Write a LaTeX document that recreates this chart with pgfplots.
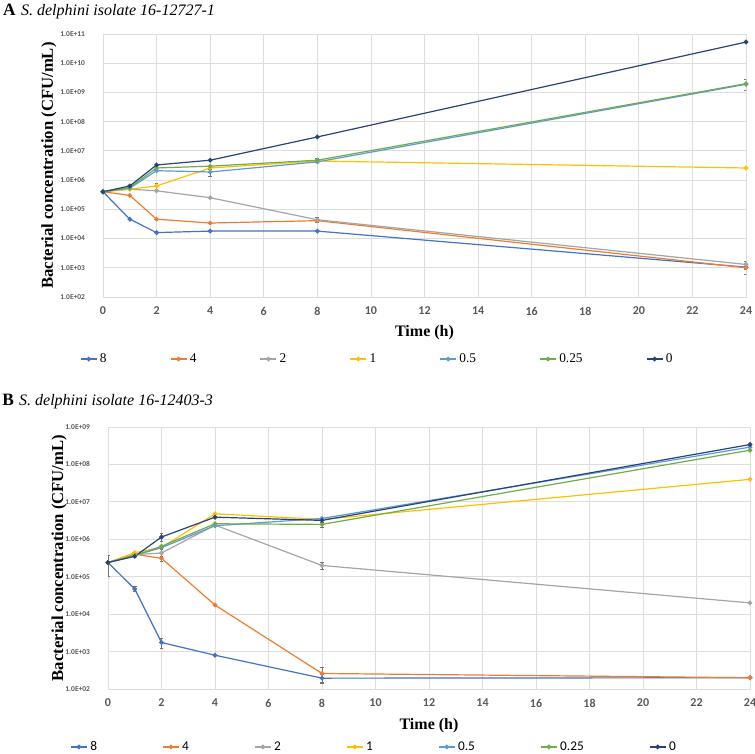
\documentclass[border=0pt]{standalone}
\usepackage{fontspec}
\setmainfont{Liberation Serif}
\newfontfamily\carlito{Carlito}
\usepackage{pgfplots}
\pgfplotsset{compat=1.18}
\definecolor{cEight}{HTML}{4472C4}
\definecolor{cFour}{HTML}{ED7D31}
\definecolor{cTwo}{HTML}{A5A5A5}
\definecolor{cOne}{HTML}{FFC000}
\definecolor{cHalf}{HTML}{5B9BD5}
\definecolor{cQuarter}{HTML}{70AD47}
\definecolor{cZero}{HTML}{264478}
\definecolor{gridc}{HTML}{DEDEDE}
\definecolor{tickc}{HTML}{595959}
\begin{document}
\begin{tikzpicture}
\useasboundingbox (0,0) rectangle (566.25pt,-564.75pt);
\node[anchor=west, inner sep=0pt] at (2.2pt,-8.5pt) {\fontsize{13}{15}\selectfont\bfseries A\hspace{4pt}\mdseries\itshape\fontsize{12}{14}\selectfont S. delphini isolate 16-12727-1};
\node[anchor=west, inner sep=0pt] at (1.5pt,-301.5pt) {\fontsize{13}{15}\selectfont\bfseries B\hspace{4pt}\mdseries\itshape\fontsize{12}{14}\selectfont S. delphini isolate 16-12403-3};

\begin{axis}[
  scale only axis, ymode=log, xmin=0, xmax=24, xtick={0,2,...,24},
  grid=major, grid style={draw=gridc, line width=0.6pt},
  axis line style={draw=gridc, line width=0.6pt},
  major tick style={draw=none}, minor tick style={draw=none},
  xticklabel style={font=\carlito\bfseries\fontsize{9}{10}\selectfont, text=tickc, yshift=-4pt},
  yticklabel style={font=\carlito\bfseries\fontsize{5.6}{6}\selectfont, text=tickc, xshift=-10pt},
  xlabel={\bfseries Time (h)},
  xlabel style={font=\fontsize{12}{14}\selectfont, anchor=center, at={(axis description cs:0.5,-0.137)}},
  ylabel={\bfseries Bacterial concentration (CFU/mL)},
  ylabel style={font=\fontsize{12.5}{14}\selectfont, anchor=center, at={(axis description cs:-0.084,0.5)}},
  legend columns=7,
  legend style={draw=none, fill=none, inner sep=0pt, at={(axis description cs:-0.036,-0.236)}, anchor=west, font=\fontsize{10}{12}\selectfont},
  legend image code/.code={\draw[mark repeat=2,mark phase=2] plot coordinates {(0pt,0pt) (6pt,0pt) (12pt,0pt)};},
  /tikz/every even column/.append style={column sep=45.5pt},
  every axis plot/.append style={line width=0.9pt, mark=*, mark size=1.3pt},
  error bars/y dir=both, error bars/y explicit,
  error bars/error bar style={line width=0.5pt, black!55},
  error bars/error mark options={rotate=90, mark size=1.4pt, black!55, line width=0.5pt},
  /pgf/number format/assume math mode=true,
  at={(77.25pt,-25.5pt)}, anchor=north west,
  width=482.25pt, height=197.25pt,
  ymin=1e2, ymax=1e11,
  ytick={1e2,1e3,1e4,1e5,1e6,1e7,1e8,1e9,1e10,1e11},
  yticklabels={1.0E+02,1.0E+03,1.0E+04,1.0E+05,1.0E+06,1.0E+07,1.0E+08,1.0E+09,1.0E+10,1.0E+11},
]
\addplot[color=cEight] coordinates {(0,4e5) +- (0,0) (1,4.6e4) +- (0,0) (2,1.6e4) +- (0,0) (4,1.8e4) +- (0,0) (8,1.8e4) +- (0,0) (24,1.05e3) +- (0,0)};
\addlegendentry{8}
\addplot[color=cFour] coordinates {(0,4e5) +- (0,0) (1,3e5) +- (0,0) (2,4.6e4) +- (0,0) (4,3.4e4) +- (0,0) (8,4.1e4) +- (0,0) (24,1.0e3) +- (0,4e2)};
\addlegendentry{4}
\addplot[color=cTwo] coordinates {(0,4e5) +- (0,0) (1,4.9e5) +- (0,0) (2,4.3e5) +- (0,0) (4,2.5e5) +- (0,0) (8,4.4e4) +- (0,8e3) (24,1.3e3) +- (0,4e2)};
\addlegendentry{2}
\addplot[color=cOne] coordinates {(0,4e5) +- (0,0) (1,4.9e5) +- (0,0) (2,6.3e5) +- (0,1.5e5) (4,2.6e6) +- (0,0) (8,4.5e6) +- (0,0) (24,2.6e6) +- (0,0)};
\addlegendentry{1}
\addplot[color=cHalf] coordinates {(0,4e5) +- (0,0) (1,5.3e5) +- (0,0) (2,2.1e6) +- (0,0) (4,1.9e6) +- (0,5e5) (8,4.2e6) +- (0,0) (24,1.9e9) +- (0,0)};
\addlegendentry{0.5}
\addplot[color=cQuarter] coordinates {(0,4e5) +- (0,0) (1,5.6e5) +- (0,0) (2,2.6e6) +- (0,0) (4,3e6) +- (0,0) (8,4.8e6) +- (0,8e5) (24,2e9) +- (0,8e8)};
\addlegendentry{0.25}
\addplot[color=cZero] coordinates {(0,4e5) +- (0,0) (1,6.3e5) +- (0,0) (2,3.3e6) +- (0,0) (4,4.8e6) +- (0,0) (8,3e7) +- (0,0) (24,5.3e10) +- (0,0)};
\addlegendentry{0}
\end{axis}

\begin{axis}[
  scale only axis, ymode=log, xmin=0, xmax=24, xtick={0,2,...,24},
  grid=major, grid style={draw=gridc, line width=0.6pt},
  axis line style={draw=gridc, line width=0.6pt},
  major tick style={draw=none}, minor tick style={draw=none},
  xticklabel style={font=\carlito\bfseries\fontsize{9}{10}\selectfont, text=tickc, yshift=-4pt},
  yticklabel style={font=\carlito\bfseries\fontsize{5.6}{6}\selectfont, text=tickc, xshift=-10pt},
  xlabel={\bfseries Time (h)},
  xlabel style={font=\fontsize{12}{14}\selectfont, anchor=center, at={(axis description cs:0.5,-0.141)}},
  ylabel={\bfseries Bacterial concentration (CFU/mL)},
  ylabel style={font=\fontsize{12.5}{14}\selectfont, anchor=center, at={(axis description cs:-0.076,0.5)}},
  legend columns=7,
  legend style={draw=none, fill=none, inner sep=0pt, at={(axis description cs:-0.059,-0.221)}, anchor=west, font=\carlito\fontsize{10}{12}\selectfont},
  legend image code/.code={\draw[mark repeat=2,mark phase=2] plot coordinates {(0pt,0pt) (6pt,0pt) (12pt,0pt)};},
  /tikz/every even column/.append style={column sep=47pt},
  every axis plot/.append style={line width=0.9pt, mark=*, mark size=1.3pt},
  error bars/y dir=both, error bars/y explicit,
  error bars/error bar style={line width=0.5pt, black!55},
  error bars/error mark options={rotate=90, mark size=1.4pt, black!55, line width=0.5pt},
  /pgf/number format/assume math mode=true,
  at={(81pt,-320.25pt)}, anchor=north west,
  width=481.5pt, height=196.5pt,
  ymin=1e2, ymax=1e9,
  ytick={1e2,1e3,1e4,1e5,1e6,1e7,1e8,1e9},
  yticklabels={1.0E+02,1.0E+03,1.0E+04,1.0E+05,1.0E+06,1.0E+07,1.0E+08,1.0E+09},
]
\addplot[color=cEight] coordinates {(0,2.4e5) +- (0,0) (1,4.7e4) +- (0,7e3) (2,1.75e3) +- (0,5e2) (4,8e2) +- (0,0) (8,1.95e2) +- (0,5e1) (24,2e2) +- (0,0)};
\addlegendentry{8}
\addplot[color=cFour] coordinates {(0,2.4e5) +- (0,0) (1,4e5) +- (0,0) (2,3.1e5) +- (0,5e4) (4,1.75e4) +- (0,0) (8,2.6e2) +- (0,1.1e2) (24,2e2) +- (0,0)};
\addlegendentry{4}
\addplot[color=cTwo] coordinates {(0,2.4e5) +- (0,0) (1,3.9e5) +- (0,0) (2,4.3e5) +- (0,1e5) (4,2.4e6) +- (0,0) (8,2e5) +- (0,4e4) (24,2e4) +- (0,0)};
\addlegendentry{2}
\addplot[color=cOne] coordinates {(0,2.4e5) +- (0,0) (1,4.4e5) +- (0,0) (2,6e5) +- (0,0) (4,4.8e6) +- (0,0) (8,3.4e6) +- (0,0) (24,4e7) +- (0,0)};
\addlegendentry{1}
\addplot[color=cHalf] coordinates {(0,2.4e5) +- (0,0) (1,3.7e5) +- (0,0) (2,6e5) +- (0,0) (4,2.3e6) +- (0,0) (8,3.6e6) +- (0,0) (24,2.9e8) +- (0,0)};
\addlegendentry{0.5}
\addplot[color=cQuarter] coordinates {(0,2.4e5) +- (0,0) (1,3.7e5) +- (0,0) (2,6.5e5) +- (0,0) (4,2.6e6) +- (0,0) (8,2.5e6) +- (0,4e5) (24,2.4e8) +- (0,0)};
\addlegendentry{0.25}
\addplot[color=cZero] coordinates {(0,2.4e5) +- (0,1.4e5) (1,3.5e5) +- (0,0) (2,1.15e6) +- (0,2.5e5) (4,3.9e6) +- (0,0) (8,3.2e6) +- (0,0) (24,3.4e8) +- (0,0)};
\addlegendentry{0}
\end{axis}
\end{tikzpicture}
\end{document}
